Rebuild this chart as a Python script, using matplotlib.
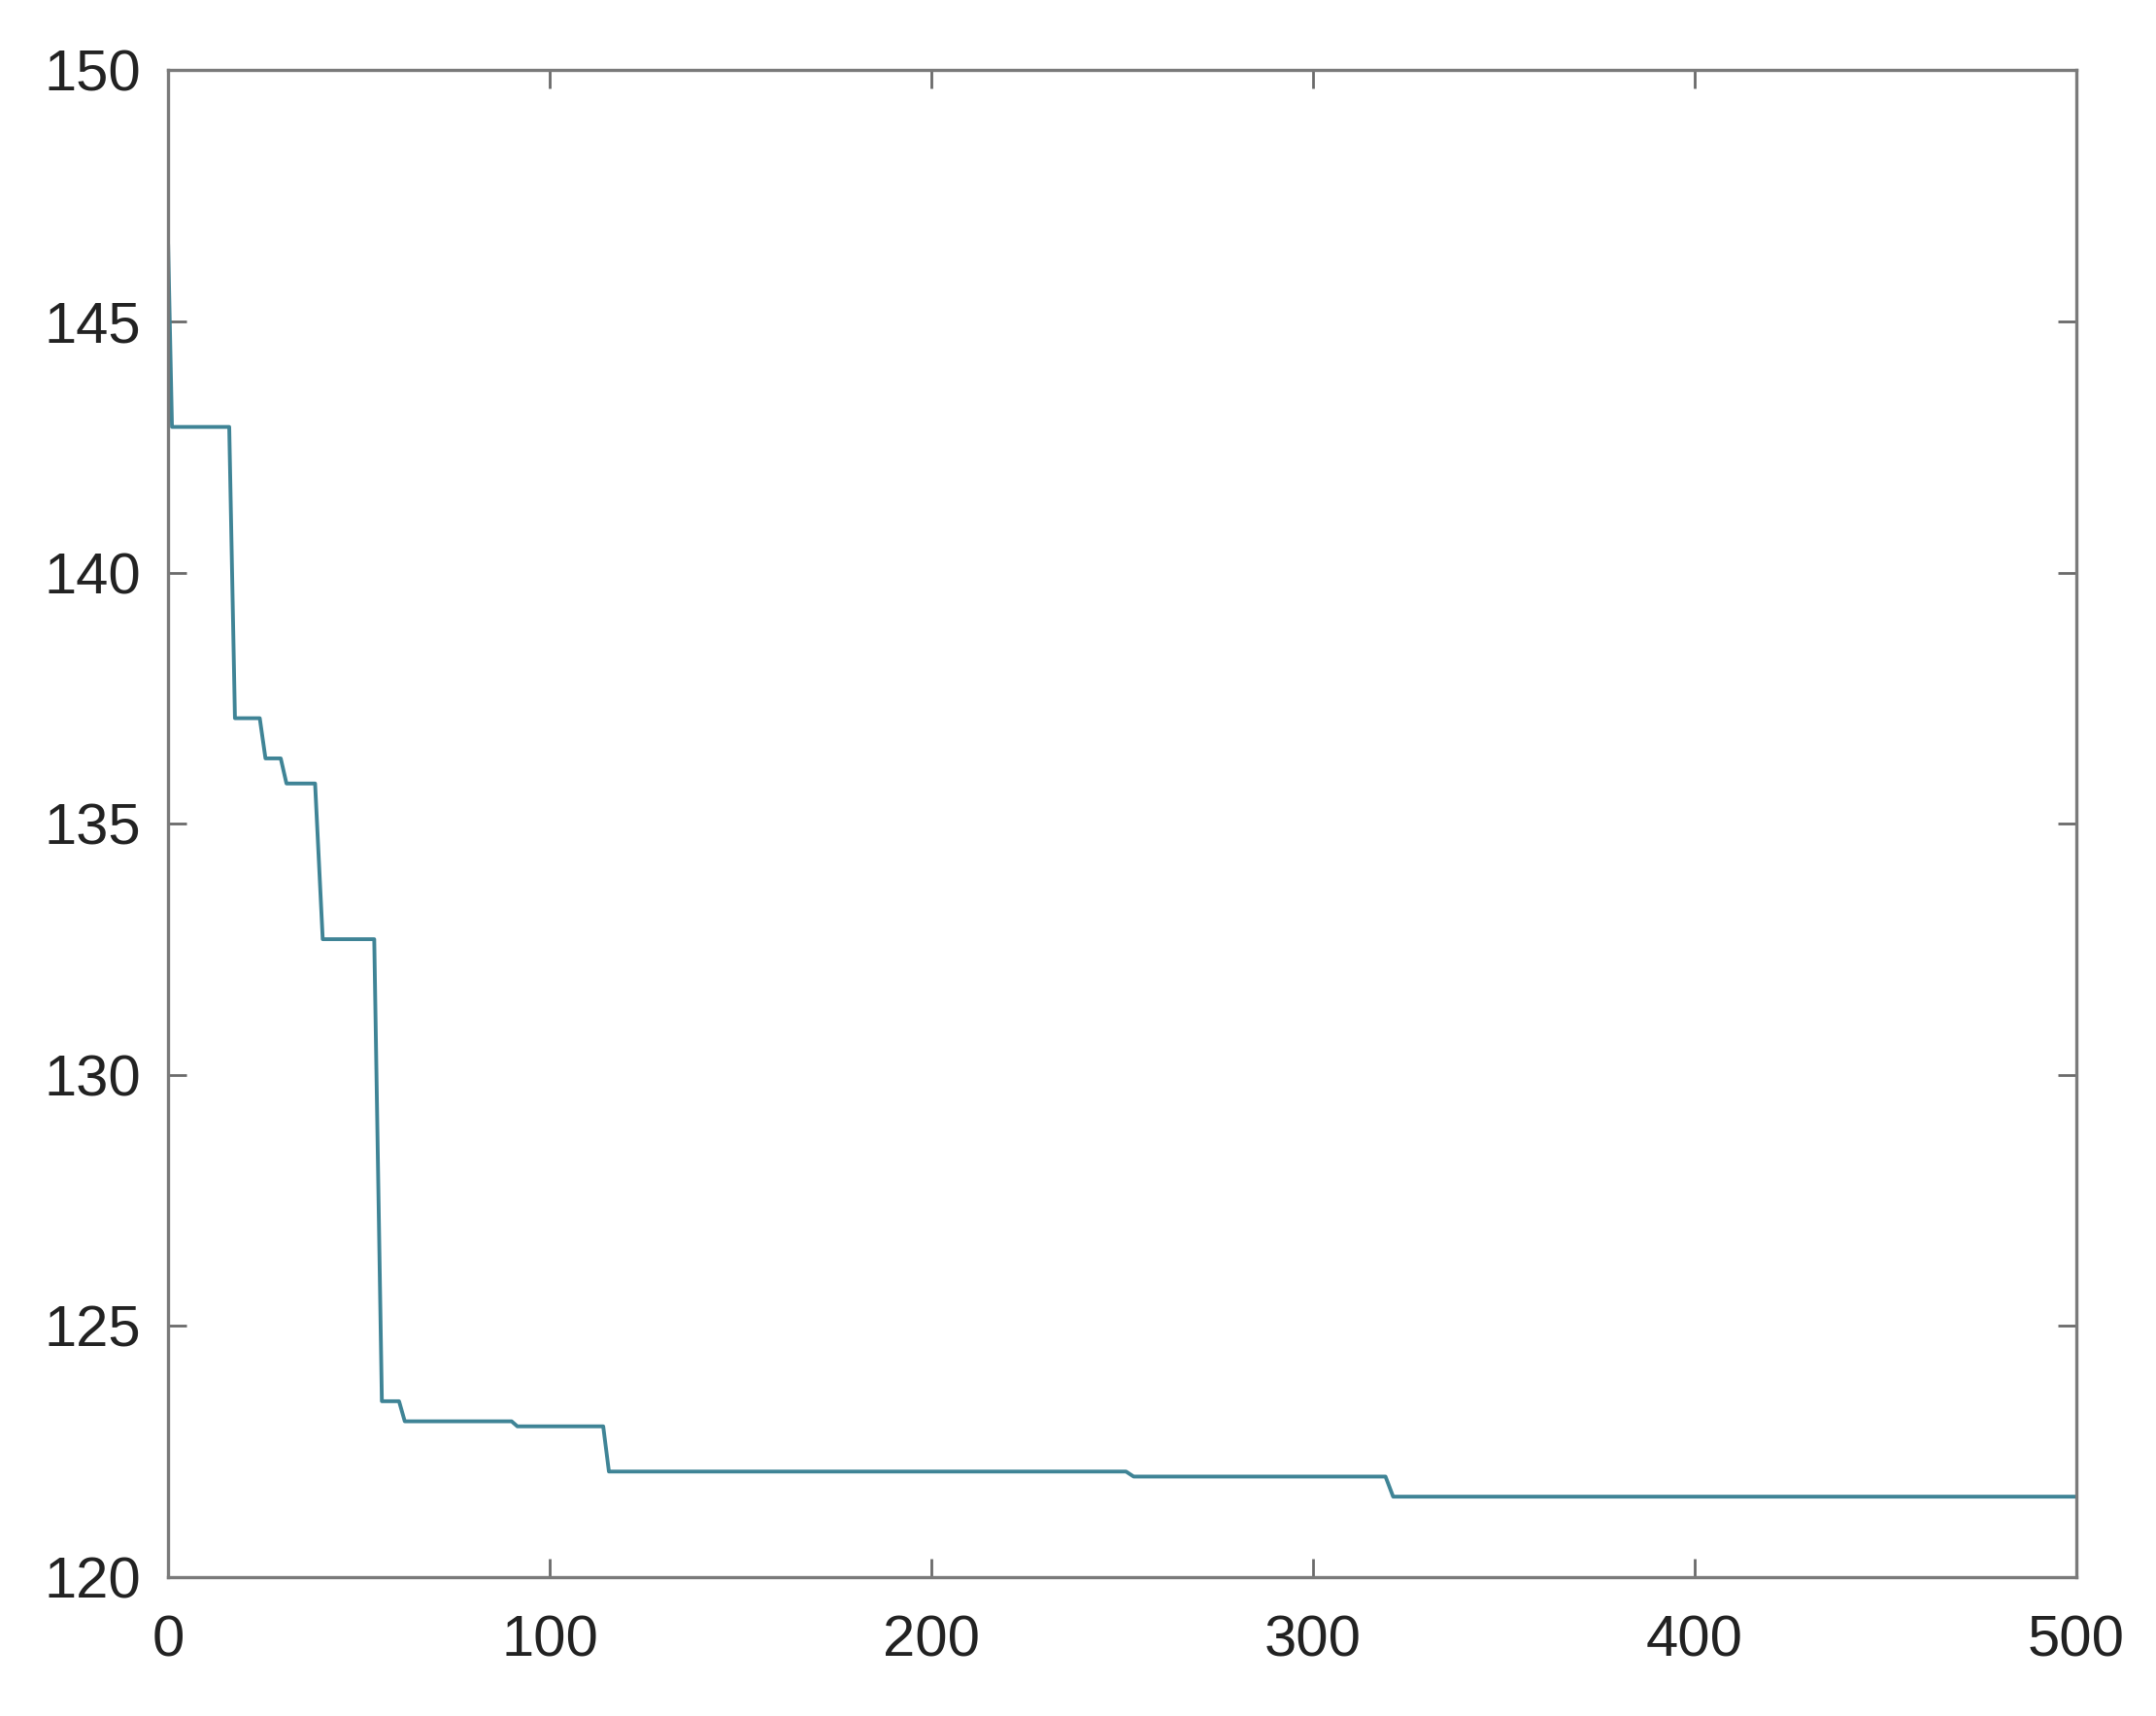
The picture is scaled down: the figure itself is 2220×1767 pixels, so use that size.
import matplotlib
matplotlib.use("Agg")
import matplotlib.pyplot as plt

# data: best fitness vs iteration (breakpoints of the convergence curve)
iterations = [0, 1, 16, 17.5, 24, 25.5, 29.5, 31, 38.5, 40.5, 54, 56, 60.5, 62,
              90, 91.5, 114, 115.5, 251, 253, 319, 321, 500]
fitness = [146.5, 142.9, 142.9, 137.1, 137.1, 136.3, 136.3, 135.8, 135.8, 132.7,
           132.7, 123.5, 123.5, 123.1, 123.1, 123.0, 123.0, 122.1, 122.1, 122.0,
           122.0, 121.6, 121.6]
x_ticks = [0, 100, 200, 300, 400, 500]
y_ticks = [120, 125, 130, 135, 140, 145, 150]

plt.rcParams['font.family'] = ['Liberation Sans', 'DejaVu Sans']

fig = plt.figure(figsize=(22.2, 17.67), dpi=100)
ax = fig.add_axes([0.078, 0.081, 0.885, 0.878])

ax.plot(iterations, fitness, color='#3f8496', linewidth=2.8)

ax.set_xlim(0, 500)
ax.set_ylim(120, 150)
ax.set_xticks(x_ticks)
ax.set_yticks(y_ticks)

for s in ax.spines.values():
    s.set_color('#7a7a7a')
    s.set_linewidth(2.4)

ax.tick_params(axis='both', direction='in', length=14, width=2.0, color='#6a6a6a',
               labelsize=43, labelcolor='#222222', top=True, right=True)
ax.tick_params(axis='x', pad=28)
ax.tick_params(axis='y', pad=20)

fig.savefig('out.png', dpi=100, facecolor='white')
